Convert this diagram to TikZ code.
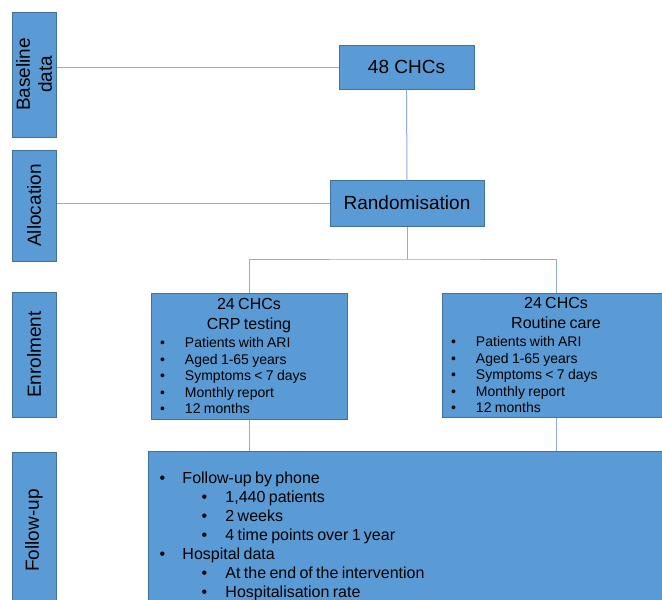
\documentclass[tikz,border=0pt]{standalone}
\usepackage{fontspec}
\setmainfont{Liberation Sans}
\usetikzlibrary{positioning}

\definecolor{boxfill}{HTML}{5B9BD5}
\definecolor{boxedge}{HTML}{41719C}
\definecolor{linkcol}{HTML}{8FAADC}

\tikzstyle{block} = [draw=boxedge, fill=boxfill, rectangle, line width=1pt]
\tikzstyle{stage} = [block, rotate=90, minimum height=44pt, inner sep=0pt, align=center, font=\fontsize{19}{22}\selectfont]
\tikzstyle{step1} = [block, font=\fontsize{19}{22}\selectfont]
\tikzstyle{arm} = [block, inner sep=3pt, align=left]
\tikzstyle{link} = [draw=linkcol, line width=1pt]

\newcommand{\bul}[1]{\par\noindent\hspace*{6pt}\makebox[25pt][l]{\textbullet}#1}
\newcommand{\fuitem}[1]{\par\noindent\hspace*{11pt}\makebox[23pt][l]{\textbullet}#1}
\newcommand{\fusub}[1]{\par\noindent\hspace*{53pt}\makebox[24pt][l]{\textbullet}#1}

\begin{document}
\begin{tikzpicture}[x=1pt, y=-1pt]
    \useasboundingbox (0,0) rectangle (662,600);
    \clip (0,0) rectangle (662,600);

    % stages on the left
    \node [stage, minimum width=125pt] (base) at (34,74.5) {Baseline\\data};
    \node [stage, minimum width=111pt] (alloc) at (34,205.5) {Allocation};
    \node [stage, minimum width=125pt] (enrol) at (34,354.5) {Enrolment};
    \node [stage, minimum width=157pt] (follow) at (34,530.5) {Follow-up};

    % flow
    \node [step1, minimum width=135pt, minimum height=44pt] (chcs) at (406.5,67) {48 CHCs};
    \node [step1, minimum width=154pt, minimum height=46pt] (rand) at (407,203) {Randomisation};
    \coordinate (fork) at (407,259);

    \node [arm, text width=190pt, minimum height=126pt] (crp) at (249,356) {%
        {\centering\fontsize{16}{20}\selectfont 24 CHCs\\CRP testing\par}
        \fontsize{14}{16.5}\selectfont\vspace{1.5pt}
        \bul{Patients with ARI}
        \bul{Aged 1-65 years}
        \bul{Symptoms < 7 days}
        \bul{Monthly report}
        \bul{12 months}\par};
    \node [arm, text width=222pt, minimum height=124pt] (routine) at (556,355) {%
        {\centering\fontsize{16}{20}\selectfont 24 CHCs\\Routine care\par}
        \fontsize{14}{16.5}\selectfont\vspace{1.5pt}
        \bul{Patients with ARI}
        \bul{Aged 1-65 years}
        \bul{Symptoms < 7 days}
        \bul{Monthly report}
        \bul{12 months}\par};

    \node [arm, anchor=north west, inner xsep=0pt, inner ysep=13pt, text width=600pt] (fu) at (148,451) {%
        \fontsize{16}{19}\selectfont
        \fuitem{Follow-up by phone}
        \fusub{1,440 patients}
        \fusub{2 weeks}
        \fusub{4 time points over 1 year}
        \fuitem{Hospital data}
        \fusub{At the end of the intervention}
        \fusub{Hospitalisation rate}
        \par\vspace*{30pt}};

    \draw [link] (chcs.west -| base.south) -- (chcs.west);
    \draw [link] (rand.west -| alloc.south) -- (rand.west);
    \draw [link] (chcs.south) -- (rand.north);
    \draw [link] (rand.south) -- (fork);
    \draw [link] (crp.north) |- (fork) -| (routine.north);
    \draw [link] (crp.south) -- (crp.south |- fu.north);
    \draw [link] (routine.south) -- (routine.south |- fu.north);
\end{tikzpicture}
\end{document}
